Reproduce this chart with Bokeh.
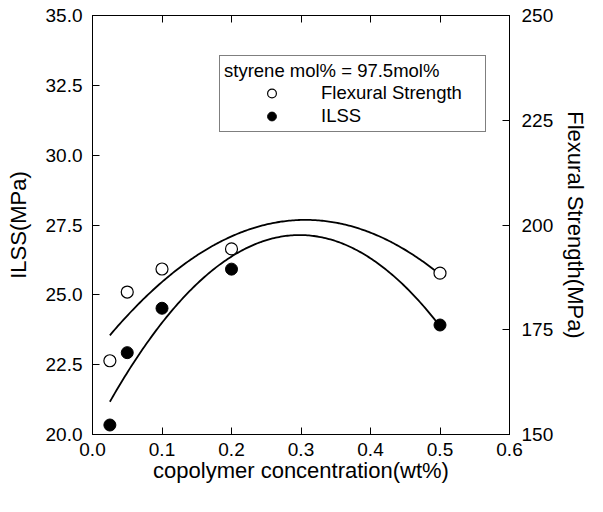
import numpy as np
from bokeh.plotting import figure
from bokeh.models import (Range1d, LinearAxis, FixedTicker, NumeralTickFormatter,
                          Legend, LegendItem)
from bokeh.embed import file_html
from bokeh.resources import INLINE

# ---- data ----
conc = [0.025, 0.05, 0.1, 0.2, 0.5]                # copolymer concentration (wt%)
ilss = [20.34, 22.93, 24.52, 25.92, 23.92]         # ILSS (MPa), left axis
flex = [167.6, 184.0, 189.5, 194.3, 188.5]         # Flexural strength (MPa), right axis
x_ticks = [0.0, 0.1, 0.2, 0.3, 0.4, 0.5, 0.6]
ilss_ticks = [20.0, 22.5, 25.0, 27.5, 30.0, 32.5, 35.0]
flex_ticks = [150, 175, 200, 225, 250]
legend_title = "styrene mol% = 97.5mol%"
labels = ["Flexural Strength", "ILSS"]

# quadratic least-squares fits (as in the original)
xf = np.linspace(min(conc), max(conc), 200)
ilss_fit = np.polyval(np.polyfit(conc, ilss, 2), xf)
flex_fit = np.polyval(np.polyfit(conc, flex, 2), xf)

FONT = "Liberation Sans"

p = figure(frame_width=417, frame_height=419, output_backend="svg", toolbar_location=None,
           x_range=Range1d(0, 0.6), y_range=Range1d(20, 35),
           min_border_left=92, min_border_top=15, min_border_right=78, min_border_bottom=58)
p.extra_y_ranges = {"flex": Range1d(150, 250)}
p.grid.visible = False
p.outline_line_color = "black"
p.outline_line_width = 1
p.background_fill_color = "white"
p.border_fill_color = "white"

def style_axis(ax):
    ax.axis_line_color = "black"
    ax.axis_line_width = 1
    ax.major_tick_line_color = "black"
    ax.major_tick_in = 7
    ax.major_tick_out = 0
    ax.minor_tick_line_color = None
    ax.major_label_text_font = FONT
    ax.major_label_text_color = "black"
    ax.major_label_text_font_size = "19px"
    ax.axis_label_text_font = FONT
    ax.axis_label_text_font_style = "normal"
    ax.axis_label_text_color = "black"
    ax.axis_label_text_font_size = "22px"

# bottom axis
xa = p.xaxis[0]
style_axis(xa)
xa.ticker = FixedTicker(ticks=x_ticks)
xa.formatter = NumeralTickFormatter(format="0.0")
xa.axis_label = "copolymer concentration(wt%)"
xa.major_label_standoff = 8
xa.axis_label_standoff = -1

# left axis
ya = p.yaxis[0]
style_axis(ya)
ya.ticker = FixedTicker(ticks=ilss_ticks)
ya.formatter = NumeralTickFormatter(format="0.0")
ya.axis_label = "ILSS(MPa)"
ya.major_label_standoff = 10
ya.axis_label_standoff = 12

# right axis
ra = LinearAxis(y_range_name="flex")
style_axis(ra)
ra.ticker = FixedTicker(ticks=flex_ticks)
ra.formatter = NumeralTickFormatter(format="0")
ra.axis_label = "Flexural Strength(MPa)"
ra.major_label_standoff = 12
ra.axis_label_standoff = 7
p.add_layout(ra, "right")

# top axis (ticks only, no labels)
ta = LinearAxis()
style_axis(ta)
ta.ticker = FixedTicker(ticks=x_ticks)
ta.major_label_overrides = {t: "" for t in x_ticks}
ta.major_label_standoff = 0
p.add_layout(ta, "above")

# fitted curves
p.line(xf, flex_fit, y_range_name="flex", line_color="black", line_width=1.8)
p.line(xf, ilss_fit, line_color="black", line_width=1.8)

# points
r_flex = p.scatter(conc, flex, y_range_name="flex", marker="circle", size=12,
                   fill_color="white", line_color="black", line_width=1.2)
r_ilss = p.scatter(conc, ilss, marker="circle", size=12,
                   fill_color="black", line_color="black")

legend = Legend(items=[LegendItem(label=labels[0], renderers=[r_flex]),
                       LegendItem(label=labels[1], renderers=[r_ilss])],
                title=legend_title, location=(127, 302))
legend.title_text_font = FONT
legend.title_text_font_style = "normal"
legend.title_text_font_size = "18.5px"
legend.title_text_color = "black"
legend.title_standoff = 0
legend.label_text_font = FONT
legend.label_text_font_size = "18.5px"
legend.label_text_color = "black"
legend.label_standoff = 2
legend.label_width = 160
legend.glyph_width = 95
legend.glyph_height = 22
legend.label_height = 18
legend.spacing = 1
legend.padding = 4
legend.margin = 0
legend.border_line_color = "black"
legend.border_line_width = 1
legend.background_fill_color = "white"
legend.background_fill_alpha = 1
p.add_layout(legend)

open("out.html", "w").write(file_html(p, INLINE))
